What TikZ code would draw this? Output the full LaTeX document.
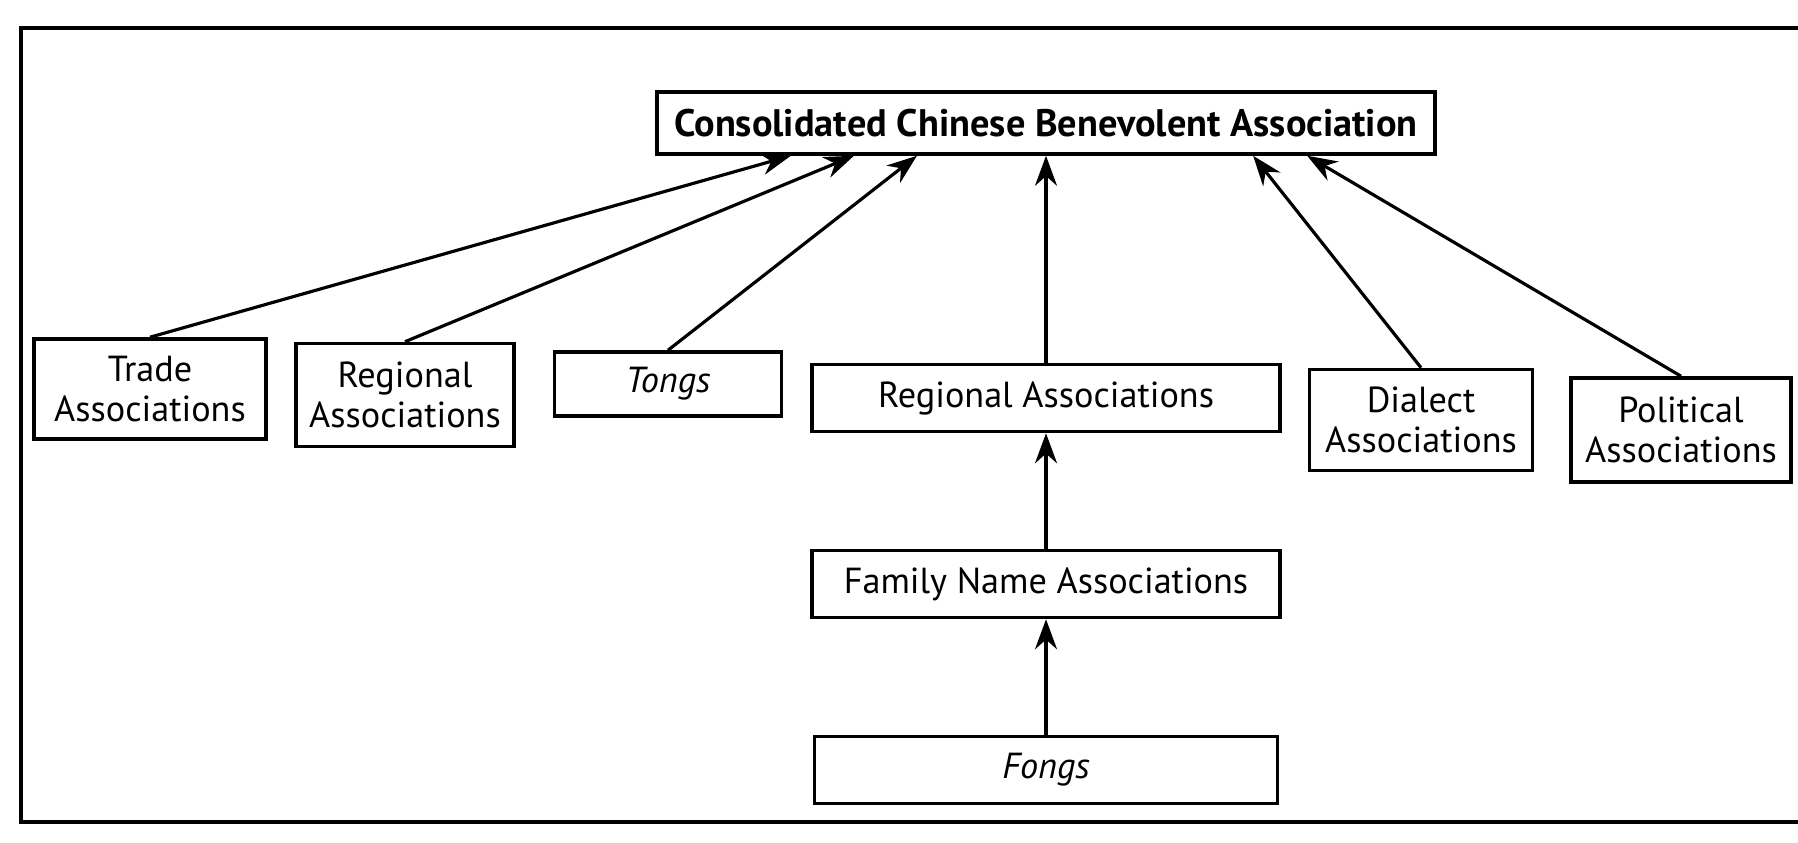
\documentclass[tikz,border=0pt]{standalone}
\usepackage{fontspec}
\setmainfont{PT Sans}
\usetikzlibrary{arrows.meta,positioning}
\tikzstyle{assoc} = [rectangle, draw, line width=1pt, align=center, inner sep=2pt, font=\fontsize{10.3}{11.5}\selectfont]
\tikzstyle{link} = [line width=0.9pt, -{Stealth[length=3mm,width=2.2mm]}]

\begin{document}
\begin{tikzpicture}[x=0.01cm, y=-0.01cm]
\useasboundingbox (0,0) rectangle (1798,843);
% outer frame
\draw[line width=1pt] (1830,28) -- (21,28) -- (21,822) -- (1830,822);

% top
\node[assoc, font=\fontsize{10.9}{12}\selectfont\bfseries, minimum width=77.8mm, minimum height=6.2mm] (ccba) at (1046,123) {Consolidated Chinese Benevolent Association};

% second row
\node[assoc, minimum width=23.2mm, minimum height=10mm] (trade) at (150,389) {Trade\\Associations};
\node[assoc, minimum width=21.8mm, minimum height=10.3mm] (regleft) at (405,395) {Regional\\Associations};
\node[assoc, font=\fontsize{10.3}{11.5}\selectfont\itshape, minimum width=22.7mm, minimum height=6.4mm] (tongs) at (668,384) {Tongs};
\node[assoc, minimum width=46.8mm, minimum height=6.7mm] (regmid) at (1046,398) {Regional Associations};
\node[assoc, minimum width=22.3mm, minimum height=10.1mm] (dialect) at (1421,420) {Dialect\\Associations};
\node[assoc, minimum width=22mm, minimum height=10.4mm] (political) at (1681,430) {Political\\Associations};

% lower chain
\node[assoc, minimum width=46.8mm, minimum height=6.7mm] (family) at (1046,584) {Family Name Associations};
\node[assoc, font=\fontsize{10.3}{11.5}\selectfont\itshape, minimum width=46.3mm, minimum height=6.7mm] (fongs) at (1046,770) {Fongs};

% links
\draw[link] (trade.north) -- ([xshift=-25.5mm]ccba.south);
\draw[link] (regleft.north) -- ([xshift=-19.2mm]ccba.south);
\draw[link] (tongs.north) -- ([xshift=-12.9mm]ccba.south);
\draw[link] (regmid.north) -- (ccba.south);
\draw[link] (dialect.north) -- ([xshift=20.7mm]ccba.south);
\draw[link] (political.north) -- ([xshift=26.1mm]ccba.south);
\draw[link] (family.north) -- (regmid.south);
\draw[link] (fongs.north) -- (family.south);
\end{tikzpicture}
\end{document}
